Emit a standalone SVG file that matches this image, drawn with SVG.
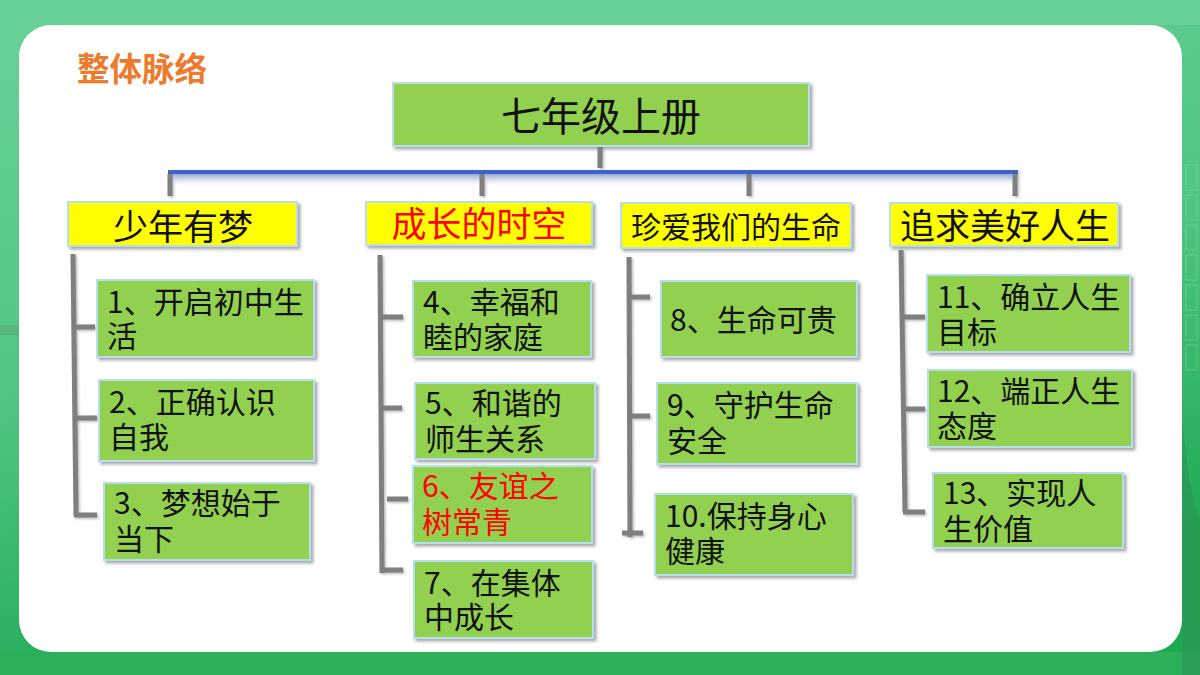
<svg xmlns="http://www.w3.org/2000/svg" width="1200" height="675" viewBox="0 0 1200 675">
<defs>
<linearGradient id="bg" x1="0" y1="0" x2="0.3" y2="1">
<stop offset="0" stop-color="#6AD198"/>
<stop offset="0.55" stop-color="#4FC584"/>
<stop offset="1" stop-color="#1EAA52"/>
</linearGradient>
<linearGradient id="blueGlow" x1="0" y1="0" x2="0" y2="1">
<stop offset="0" stop-color="#8FA6E0" stop-opacity="0.9"/>
<stop offset="1" stop-color="#DDE5F7" stop-opacity="0"/>
</linearGradient>
<filter id="sh" x="-10%" y="-10%" width="125%" height="130%">
<feDropShadow dx="2.5" dy="2.5" stdDeviation="1.5" flood-color="#7a7a7a" flood-opacity="0.65"/>
</filter>
<filter id="lsh" x="-50%" y="-10%" width="200%" height="130%">
<feDropShadow dx="1.5" dy="1.5" stdDeviation="1" flood-color="#555" flood-opacity="0.4"/>
</filter>
<style>
.box{fill:#92D050;stroke:#B7DDF0;stroke-width:2;filter:url(#sh)}
.cat{fill:#FFFF00;stroke:#B7DDF0;stroke-width:2;filter:url(#sh)}
.t{font-family:"Noto Sans CJK SC","Microsoft YaHei",sans-serif;font-size:30px;fill:#111}
.red{fill:#FF0000}
.c{font-family:"Noto Sans CJK SC","Microsoft YaHei",sans-serif;fill:#111;text-anchor:middle}
.ln{stroke:#7F7F7F;stroke-width:5;fill:none;stroke-linecap:butt}
.win{fill:none;stroke:#8EE0B4;stroke-width:1.2;opacity:0.35}
</style>
</defs>

<!-- background -->
<rect x="0" y="0" width="1200" height="675" fill="url(#bg)"/>
<rect x="0" y="0" width="1200" height="25" fill="#67D096"/>
<rect x="0" y="652" width="1200" height="23" fill="#2BAF58"/>
<path d="M1182 420 Q1190 500 1200 520 L1200 675 L1182 675 Z" fill="#2E8E55" opacity="0.5"/>
<g>
<rect class="win" x="1186" y="165" width="11" height="25"/>
<rect class="win" x="1186" y="195" width="11" height="25"/>
<rect class="win" x="1186" y="225" width="11" height="25"/>
<rect class="win" x="1186" y="255" width="11" height="25"/>
<rect class="win" x="1186" y="285" width="11" height="25"/>
<rect class="win" x="1186" y="315" width="11" height="25"/>
<rect class="win" x="1186" y="345" width="11" height="25"/>
<rect x="0" y="325" width="19" height="10" fill="#5BA879" opacity="0.5"/>
</g>
<rect x="19" y="25" width="1163" height="627" rx="32" ry="32" fill="#FFFFFF"/>

<!-- title -->
<text x="77" y="81" font-family="'Noto Sans CJK SC','Microsoft YaHei',sans-serif" font-size="32.5" font-weight="bold" fill="#EE7A2E">整体脉络</text>

<!-- connectors -->
<g id="connectors" filter="url(#lsh)">
<line class="ln" x1="600" y1="146" x2="600" y2="168"/>
<rect x="168" y="174" width="850" height="9" fill="url(#blueGlow)"/>
<line x1="168" y1="172" x2="1018" y2="172" stroke="#3C64C8" stroke-width="4"/>
<line class="ln" x1="170" y1="174" x2="170" y2="196"/>
<line class="ln" x1="482" y1="174" x2="482" y2="196"/>
<line class="ln" x1="749" y1="174" x2="749" y2="196"/>
<line class="ln" x1="1015" y1="174" x2="1015" y2="196"/>
<!-- column 1 -->
<line class="ln" x1="73" y1="254" x2="76" y2="516"/>
<line class="ln" x1="74" y1="327" x2="95" y2="327"/>
<line class="ln" x1="75" y1="418" x2="97" y2="418"/>
<line class="ln" x1="74" y1="515" x2="97" y2="515"/>
<!-- column 2 -->
<line class="ln" x1="380" y1="255" x2="382" y2="573"/>
<line class="ln" x1="380" y1="317" x2="403" y2="317"/>
<line class="ln" x1="381" y1="408" x2="402" y2="408"/>
<line class="ln" x1="387" y1="499" x2="408" y2="499"/>
<line class="ln" x1="380" y1="570" x2="403" y2="570"/>
<!-- column 3 -->
<line class="ln" x1="629" y1="257" x2="630" y2="537"/>
<line class="ln" x1="629" y1="297" x2="650" y2="297"/>
<line class="ln" x1="629" y1="416" x2="650" y2="416"/>
<line class="ln" x1="622" y1="533" x2="643" y2="533"/>
<!-- column 4 -->
<line class="ln" x1="901" y1="250" x2="905" y2="512"/>
<line class="ln" x1="902" y1="317" x2="925" y2="317"/>
<line class="ln" x1="903" y1="409" x2="925" y2="409"/>
<line class="ln" x1="903" y1="512" x2="925" y2="512"/>
</g>

<!-- root -->
<g id="root">
<rect class="box" x="393" y="83" width="416" height="63"/>
<text class="c" x="601" y="131" font-size="40">七年级上册</text>
</g>

<!-- categories -->
<g id="cat1"><rect class="cat" x="68" y="202" width="229" height="44"/><text class="c" x="183" y="240" font-size="35">少年有梦</text></g>
<g id="cat2"><rect class="cat" x="366" y="202" width="226" height="43"/><text class="c" x="479" y="237" font-size="35" style="fill:#FF0000">成长的时空</text></g>
<g id="cat3"><rect class="cat" x="621" y="203" width="230" height="45"/><text class="c" x="736" y="238" font-size="30">珍爱我们的生命</text></g>
<g id="cat4"><rect class="cat" x="890" y="203" width="228" height="43"/><text class="c" x="1005" y="239" font-size="35">追求美好人生</text></g>

<!-- items column 1 -->
<g id="n1"><rect class="box" x="97" y="280" width="217" height="77"/><text class="t"><tspan x="107" y="313">1、开启初中生</tspan><tspan x="107" y="347">活</tspan></text></g>
<g id="n2"><rect class="box" x="99" y="380" width="215" height="81"/><text class="t"><tspan x="109" y="413">2、正确认识</tspan><tspan x="109" y="448">自我</tspan></text></g>
<g id="n3"><rect class="box" x="104" y="483" width="206" height="77"/><text class="t"><tspan x="114" y="514">3、梦想始于</tspan><tspan x="114" y="550">当下</tspan></text></g>

<!-- items column 2 -->
<g id="n4"><rect class="box" x="413" y="281" width="178" height="76"/><text class="t"><tspan x="423" y="313">4、幸福和</tspan><tspan x="423" y="348">睦的家庭</tspan></text></g>
<g id="n5"><rect class="box" x="415" y="383" width="180" height="76"/><text class="t"><tspan x="425" y="414">5、和谐的</tspan><tspan x="425" y="450">师生关系</tspan></text></g>
<g id="n6"><rect class="box" x="413" y="466" width="179" height="77"/><text class="t red"><tspan x="422" y="497">6、友谊之</tspan><tspan x="422" y="533">树常青</tspan></text></g>
<g id="n7"><rect class="box" x="414" y="561" width="179" height="77"/><text class="t"><tspan x="424" y="594">7、在集体</tspan><tspan x="424" y="628">中成长</tspan></text></g>

<!-- items column 3 -->
<g id="n8"><rect class="box" x="661" y="281" width="196" height="76"/><text class="t" x="670" y="331">8、生命可贵</text></g>
<g id="n9"><rect class="box" x="657" y="383" width="200" height="81"/><text class="t"><tspan x="667" y="416">9、守护生命</tspan><tspan x="667" y="452">安全</tspan></text></g>
<g id="n10"><rect class="box" x="655" y="494" width="198" height="81"/><text class="t"><tspan x="665" y="527">10.保持身心</tspan><tspan x="665" y="562">健康</tspan></text></g>

<!-- items column 4 -->
<g id="n11"><rect class="box" x="927" y="275" width="203" height="77"/><text class="t"><tspan x="937" y="308">11、确立人生</tspan><tspan x="937" y="343">目标</tspan></text></g>
<g id="n12"><rect class="box" x="928" y="370" width="204" height="77"/><text class="t"><tspan x="937" y="402">12、端正人生</tspan><tspan x="937" y="437">态度</tspan></text></g>
<g id="n13"><rect class="box" x="933" y="473" width="190" height="75"/><text class="t"><tspan x="943" y="504">13、实现人</tspan><tspan x="943" y="540">生价值</tspan></text></g>
</svg>
